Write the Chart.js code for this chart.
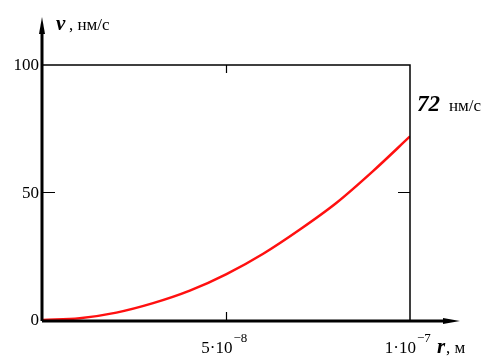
<!DOCTYPE html>
<html>
<head>
<meta charset="utf-8">
<script src="https://cdn.jsdelivr.net/npm/chart.js@4"></script>
<style>
  body { margin: 0; background: #fff; }
  #wrap { width: 502px; height: 356px; }
</style>
</head>
<body>
<div id="wrap"><canvas id="myChart" width="502" height="356"></canvas></div>
<script>
// radius r, m
const radii = [0, 1e-8, 2e-8, 3e-8, 4e-8, 5e-8, 6e-8, 7e-8, 8e-8, 9e-8, 1e-7];
// velocity v, nm/s
const speeds = [0, 0.7, 2.9, 6.6, 11.5, 18, 26, 35.5, 46, 58.5, 72];

const yTicks = [0, 50, 100];
const xTickValues = [5e-8, 1e-7];
const xTickMant = ["5", "1"];
const xTickExp = ["\u22128", "\u22127"];
const endLabel = "72";

const serif = "'Liberation Serif', 'DejaVu Serif', serif";

const axesPlugin = {
    id: "axesPlugin",
    afterDatasetsDraw(chart) {
        const ctx = chart.ctx;
        const xs = chart.scales.x;
        const ys = chart.scales.y;
        const x0 = xs.getPixelForValue(0);
        const x1 = xs.getPixelForValue(1e-7);
        const y0 = ys.getPixelForValue(0);
        const y1 = ys.getPixelForValue(100);

        ctx.save();
        ctx.strokeStyle = "#000";
        ctx.fillStyle = "#000";

        // frame (top and right)
        ctx.lineWidth = 1.5;
        ctx.beginPath();
        ctx.moveTo(x0, y1);
        ctx.lineTo(x1, y1);
        ctx.lineTo(x1, y0);
        ctx.stroke();

        // ticks at 50 and 5e-8
        ctx.lineWidth = 1.2;
        const y50 = ys.getPixelForValue(50);
        const x5 = xs.getPixelForValue(5e-8);
        ctx.beginPath();
        ctx.moveTo(x0, y50); ctx.lineTo(x0 + 12, y50);
        ctx.moveTo(x1, y50); ctx.lineTo(x1 - 12, y50);
        ctx.moveTo(x5, y0); ctx.lineTo(x5, y0 - 8);
        ctx.moveTo(x5, y1); ctx.lineTo(x5, y1 + 8);
        ctx.stroke();

        // main axes with arrows
        ctx.lineWidth = 3;
        ctx.beginPath();
        ctx.moveTo(x0 - 1, y0 + 1);
        ctx.lineTo(x0 - 1, 30);
        ctx.moveTo(x0 - 1, y0 + 1);
        ctx.lineTo(448, y0 + 1);
        ctx.stroke();
        ctx.beginPath();
        ctx.moveTo(x0 - 1, 17);
        ctx.lineTo(x0 - 4, 34);
        ctx.lineTo(x0 + 2, 34);
        ctx.closePath();
        ctx.fill();
        ctx.beginPath();
        ctx.moveTo(460, y0 + 1);
        ctx.lineTo(443, y0 - 2);
        ctx.lineTo(443, y0 + 4);
        ctx.closePath();
        ctx.fill();

        // y tick labels
        ctx.font = "17px " + serif;
        ctx.textAlign = "right";
        ctx.textBaseline = "middle";
        yTicks.forEach(v => {
            ctx.fillText(String(v), x0 - 4, ys.getPixelForValue(v) + 1);
        });

        // x tick labels with exponents
        ctx.textBaseline = "alphabetic";
        xTickValues.forEach((v, i) => {
            const px = xs.getPixelForValue(v);
            ctx.font = "17px " + serif;
            ctx.textAlign = "right";
            ctx.fillText(xTickMant[i] + "\u00b710", px + 6, 353);
            ctx.font = "13px " + serif;
            ctx.textAlign = "left";
            ctx.fillText(xTickExp[i], px + 7, 342);
        });

        // axis titles
        ctx.textAlign = "left";
        ctx.font = "bold italic 21px " + serif;
        ctx.fillText("v", 56, 30);
        ctx.font = "17px " + serif;
        ctx.fillText(", нм/с", 69, 30);

        ctx.font = "bold italic 21px " + serif;
        ctx.fillText("r", 437, 353);
        ctx.font = "17px " + serif;
        ctx.fillText(", м", 446, 353);

        // end value label
        ctx.font = "bold italic 23px " + serif;
        ctx.fillText(endLabel, 417, 111);
        ctx.font = "17px " + serif;
        ctx.fillText("нм/с", 449, 111);

        ctx.restore();
    }
};

new Chart(document.getElementById("myChart"), {
    type: "line",
    data: {
        labels: radii,
        datasets: [{
            data: radii.map((r, i) => ({ x: r, y: speeds[i] })),
            borderColor: "#ff1010",
            borderWidth: 2.5,
            pointRadius: 0,
            cubicInterpolationMode: "monotone",
            fill: false
        }]
    },
    options: {
        responsive: false,
        animation: false,
        layout: { padding: { left: 43, right: 92, top: 65, bottom: 36 } },
        scales: {
            x: { type: "linear", min: 0, max: 1e-7, display: false },
            y: { min: 0, max: 100, display: false }
        },
        plugins: {
            legend: { display: false },
            tooltip: { enabled: false }
        }
    },
    plugins: [axesPlugin]
});
</script>
</body>
</html>
